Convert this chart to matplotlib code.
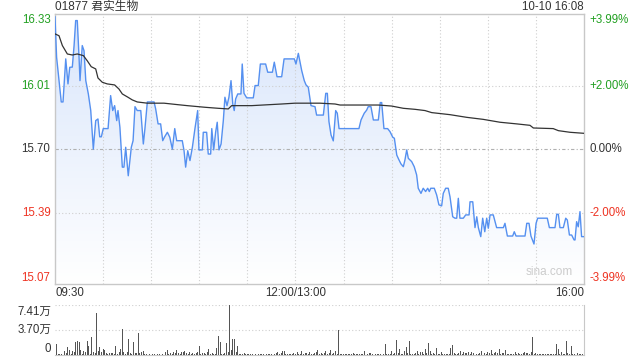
import matplotlib
matplotlib.use("Agg")
import matplotlib.pyplot as plt
import numpy as np

plt.rcParams['font.family'] = ['Liberation Sans', 'Noto Sans CJK SC', 'DejaVu Sans']

TITLE = "01877 君实生物"
STAMP = "10-10 16:08"
PREV_CLOSE = 15.70

# minutes since 09:30 (lunch break removed, 330 = 16:00)
price_t = [0, 1.0, 2.5, 3.9, 5.0, 6.7, 8.1, 9.2, 10.8, 11.9, 12.9, 13.9, 15.0, 15.6, 17.0, 18.1,
           19.2, 20.8, 22.3, 23.9, 25.4, 26.8, 27.9, 28.9, 30.1, 33.1, 34.7, 36.0, 37.2, 38.5,
           39.3, 40.5, 42.0, 43.0, 44.1, 45.7, 47.6, 48.7, 49.9, 51.3, 53.5, 55.1, 56.1, 57.6,
           61.8, 62.8, 64.3, 65.9, 67.2, 68.4, 70.1, 71.6, 73.2, 74.7, 75.9, 79.4, 80.5, 81.5,
           82.8, 84.2, 85.7, 87.3, 89.0, 89.8, 91.9, 92.5, 94.6, 95.6, 97.1, 97.8, 99.0, 100.2,
           101.2, 102.3, 103.6, 105.0, 106.0, 107.3, 108.5, 109.8, 110.9, 111.8, 112.7, 114.0,
           116.0, 116.8, 117.9, 119.6, 123.7, 124.8, 126.8, 128.1, 131.4, 132.7, 135.6, 136.8,
           138.5, 141.4, 142.9, 149.3, 150.3, 151.8, 153.9, 155.5, 156.6, 158.0, 159.7, 162.2,
           163.2, 167.4, 168.9, 169.9, 170.9, 172.2, 173.6, 175.1, 176.1, 177.2, 189.6, 190.9,
           192.9, 194.4, 195.4, 197.1, 198.6, 201.7, 202.9, 203.8, 205.2, 207.5, 209.0, 210.7,
           211.7, 213.2, 214.6, 215.8, 217.3, 218.3, 219.4, 220.4, 222.5, 224.1, 225.6, 226.6,
           228.3, 229.7, 231.2, 232.5, 233.5, 234.4, 236.6, 238.1, 239.5, 241.2, 242.2, 243.7,
           245.3, 246.4, 248.1, 249.5, 250.6, 251.6, 252.6, 254.7, 256.2, 258.3, 258.9, 260.6,
           262.0, 263.1, 264.1, 265.6, 266.8, 268.1, 269.3, 270.3, 271.4, 273.4, 275.5, 279.7,
           280.7, 282.2, 285.5, 286.5, 287.6, 293.2, 294.3, 295.7, 296.9, 298.8, 300.1, 301.1,
           307.1, 308.4, 311.9, 313.0, 314.0, 315.0, 317.1, 318.6, 319.6, 320.9, 322.3, 323.8,
           324.4, 325.4, 326.4, 327.5, 328.5, 330.0]
price_v = [16.345, 16.148, 16.034, 15.93, 15.93, 16.14, 16.018, 16.099, 16.10, 16.205, 16.327,
           16.327, 16.148, 16.034, 16.205, 16.18, 16.034, 15.969, 15.888, 15.70, 15.839, 15.847,
           15.76, 15.76, 15.80, 15.80, 15.961, 15.888, 15.912, 15.839, 15.888, 15.806, 15.612,
           15.612, 15.709, 15.57, 15.709, 15.741, 15.907, 15.888, 15.888, 15.725, 15.80, 15.93,
           15.93, 15.896, 15.823, 15.823, 15.741, 15.76, 15.782, 15.758, 15.70, 15.80, 15.741,
           15.741, 15.692, 15.612, 15.692, 15.644, 15.709, 15.80, 15.888, 15.696, 15.696, 15.782,
           15.782, 15.676, 15.676, 15.80, 15.696, 15.782, 15.831, 15.696, 15.725, 15.839, 15.953,
           15.912, 15.953, 16.034, 15.92, 15.888, 15.945, 15.969, 15.969, 16.115, 15.972, 15.95,
           15.95, 16.01, 16.01, 16.115, 16.115, 16.075, 16.075, 16.124, 16.053, 16.053, 16.14,
           16.14, 16.115, 16.167, 16.083, 16.034, 16.013, 16.002, 15.912, 15.907, 15.866, 15.866,
           15.972, 15.972, 15.834, 15.769, 15.74, 15.888, 15.875, 15.80, 15.80, 15.842, 15.875,
           15.89, 15.907, 15.907, 15.842, 15.842, 15.927, 15.927, 15.80, 15.80, 15.785, 15.758,
           15.753, 15.671, 15.647, 15.628, 15.614, 15.647, 15.696, 15.655, 15.639, 15.614, 15.574,
           15.509, 15.484, 15.509, 15.493, 15.509, 15.493, 15.509, 15.509, 15.476, 15.428, 15.423,
           15.484, 15.509, 15.509, 15.468, 15.37, 15.363, 15.363, 15.46, 15.363, 15.363, 15.379,
           15.379, 15.443, 15.443, 15.317, 15.37, 15.317, 15.273, 15.363, 15.297, 15.363, 15.314,
           15.379, 15.379, 15.317, 15.317, 15.338, 15.276, 15.276, 15.297, 15.276, 15.276, 15.338,
           15.338, 15.276, 15.237, 15.338, 15.363, 15.363, 15.317, 15.317, 15.382, 15.382, 15.317,
           15.317, 15.363, 15.354, 15.281, 15.281, 15.257, 15.257, 15.346, 15.321, 15.395, 15.273,
           15.273]

avg_t = [0, 2.5, 4.6, 7.7, 10.8, 13.9, 17.7, 20.1, 22.6, 25.4, 26.8, 29.5, 32.6, 37.2, 39.9,
         42.0, 45.5, 48.2, 51.3, 57.6, 68.0, 76.3, 82.5, 93.6, 101.9, 108.1, 110.2, 122.7, 141.4,
         149.7, 165.3, 174.7, 177.8, 201.7, 210.0, 217.3, 224.6, 230.8, 235.0, 246.4, 256.8,
         267.2, 277.6, 288.0, 296.3, 298.4, 310.8, 314.0, 321.3, 330.0]
avg_v = [16.262, 16.253, 16.205, 16.164, 16.159, 16.164, 16.156, 16.131, 16.102, 16.091, 16.047,
         16.026, 16.018, 16.013, 15.993, 15.969, 15.953, 15.94, 15.93, 15.924, 15.924, 15.917,
         15.912, 15.904, 15.899, 15.896, 15.912, 15.912, 15.92, 15.924, 15.924, 15.92, 15.915,
         15.915, 15.91, 15.899, 15.894, 15.888, 15.878, 15.868, 15.855, 15.845, 15.831, 15.823,
         15.816, 15.803, 15.80, 15.79, 15.782, 15.777]

# volume per minute, in 万 shares
vol = [4.49, 1.66, 0.15, 0.20, 0.12, 1.22, 0.68, 0.34, 1.22, 0.83,
       0.20, 0.59, 0.49, 1.90, 2.15, 2.00, 0.83, 0.15, 0.59, 0.44,
       2.15, 1.42, 0.20, 2.68, 0.49, 0.29, 6.20, 0.68, 1.22, 0.44,
       0.98, 0.83, 0.29, 0.15, 0.29, 0.39, 0.39, 0.20, 1.32, 0.15,
       0.49, 0.93, 3.80, 0.49, 0.15, 0.49, 2.44, 0.39, 0.12, 1.95,
       0.39, 0.29, 3.32, 0.29, 0.49, 0.63, 0.20, 0.12, 0.10, 0.15,
       0.10, 0.12, 0.20, 0.10, 0.12, 0.15, 0.10, 0.12, 0.83, 0.49,
       0.73, 0.15, 0.34, 0.12, 0.49, 0.34, 0.83, 0.34, 0.15, 0.44,
       0.49, 0.68, 0.29, 0.12, 0.49, 0.15, 0.29, 0.12, 0.29, 0.49,
       1.42, 0.15, 0.29, 0.29, 0.12, 0.44, 0.98, 0.15, 0.29, 0.20,
       0.12, 1.07, 2.83, 2.00, 0.20, 0.12, 0.39, 1.85, 0.49, 7.41,
       0.78, 2.44, 2.44, 0.49, 1.32, 0.20, 0.12, 0.20, 0.34, 0.12,
       0.20, 0.12, 0.15, 0.12, 0.10, 0.15, 0.59, 0.20, 0.12, 0.15,
       0.12, 0.15, 0.20, 0.12, 0.15, 0.20, 0.29, 0.15, 0.34, 0.49,
       0.15, 0.29, 0.63, 0.63, 0.20, 0.15, 0.12, 0.15, 0.20, 0.29,
       0.15, 0.44, 0.12, 0.15, 0.63, 0.20, 0.34, 0.29, 0.15, 0.44,
       0.15, 0.20, 0.29, 0.44, 0.73, 0.15, 0.29, 0.12, 0.29, 0.63,
       0.15, 0.29, 0.73, 0.12, 0.29, 0.59, 0.15, 3.76, 0.15, 0.12,
       0.15, 0.12, 0.15, 0.20, 0.12, 0.15, 0.34, 0.12, 0.15, 0.12,
       0.15, 0.12, 0.20, 0.59, 0.34, 0.15, 0.39, 0.29, 0.12, 0.15,
       0.12, 0.15, 0.20, 0.12, 1.07, 0.15, 1.66, 0.12, 0.15, 0.20,
       0.59, 0.15, 0.29, 2.20, 0.29, 0.88, 0.15, 0.12, 0.59, 1.17,
       0.29, 2.05, 0.15, 0.12, 0.15, 0.34, 0.59, 0.15, 0.49, 0.49,
       0.15, 0.88, 0.34, 1.80, 0.59, 0.12, 0.29, 0.15, 1.02, 0.15,
       0.12, 0.49, 0.15, 0.12, 0.15, 0.12, 0.20, 1.07, 1.51, 0.34,
       0.12, 0.15, 0.29, 0.59, 0.15, 0.44, 0.29, 0.29, 0.49, 0.15,
       0.44, 0.29, 0.93, 0.15, 0.12, 0.39, 0.59, 0.59, 0.29, 0.12,
       0.44, 0.29, 0.78, 0.15, 0.29, 0.49, 0.29, 0.93, 0.15, 0.29,
       0.29, 0.78, 0.15, 0.12, 0.15, 0.12, 0.15, 0.49, 0.12, 0.29,
       0.15, 0.12, 0.29, 0.49, 0.29, 0.34, 0.15, 0.49, 2.68, 0.15,
       0.34, 0.15, 0.12, 0.15, 0.12, 0.15, 0.12, 0.15, 0.12, 0.15,
       0.12, 0.15, 0.12, 1.66, 0.93, 0.15, 0.44, 0.12, 0.15, 2.15,
       0.34, 0.15, 1.37, 0.12, 0.15, 0.29, 0.29, 0.12, 0.15, 0.20,
       0.15]

price_ticks = [16.33, 16.01, 15.70, 15.39, 15.07]
pct_labels = ["+3.99%", "+2.00%", "0.00%", "-2.00%", "-3.99%"]
vol_ticks = [7.41, 3.70, 0]
vol_labels = ["7.41万", "3.70万", "0"]

GREEN = "#22a022"
RED = "#ee3322"
DARK = "#333333"
BORDER = "#c8c8c8"
GRID = "#cfcfcf"
LINE = "#5590f0"


def main():
   fig = plt.figure(figsize=(6.4, 3.6), dpi=100)
   W, H = 640, 360
   ax = fig.add_axes([55 / W, 1 - 284 / H, 529 / W, 270 / H])
   axv = fig.add_axes([55 / W, 1 - 355.3 / H, 529 / W, 50.6 / H])

   ymin, ymax = 15.042, 16.359
   ax.set_xlim(0, 330)
   ax.set_ylim(ymin, ymax)

   # gradient fill under the price line
   fill = ax.fill_between(price_t, price_v, ymin, color="none", lw=0)
   grad = np.linspace(1, 0, 256).reshape(-1, 1)
   top = np.array([0.85, 0.90, 0.985])
   bot = np.array([1.0, 1.0, 1.0])
   img = top * grad[..., None] + bot * (1 - grad[..., None])
   im = ax.imshow(img, extent=[0, 330, ymin, ymax], aspect="auto", origin="upper", zorder=1)
   im.set_clip_path(fill.get_paths()[0], transform=ax.transData)

   for y in [16.01, 15.39]:
      ax.axhline(y, color=GRID, lw=0.8, ls=(0, (1, 2)), zorder=2)
   ax.axhline(PREV_CLOSE, color="#b0b0b0", lw=0.8, ls=(0, (3, 2, 1, 2)), zorder=2)
   for x in range(30, 330, 30):
      ax.axvline(x, color=GRID, lw=0.8, ls=(0, (1, 2)), zorder=2)

   ax.plot(price_t, price_v, color=LINE, lw=1.0, zorder=3)
   ax.plot(avg_t, avg_v, color=DARK, lw=0.9, zorder=4)

   for s in ax.spines.values():
      s.set_color(BORDER)
      s.set_linewidth(1)
   ax.set_xticks([])
   ax.set_yticks([])

   colors = [GREEN, GREEN, DARK, RED, RED]
   for y, lab, pl, c in zip(price_ticks, [f"{p:.2f}" for p in price_ticks], pct_labels, colors):
      ax.text(-4.5 / 529 * 330, y, lab, ha="right", va="center", color=c, fontsize=8.3)
      ax.text(330 + 5 / 529 * 330, y, pl, ha="left", va="center", color=c, fontsize=8.3)

   ax.text(0, 1.0 + 7 / 270, TITLE, transform=ax.transAxes, ha="left", va="center",
           color=DARK, fontsize=8.5)
   ax.text(1, 1.0 + 7 / 270, STAMP, transform=ax.transAxes, ha="right", va="center",
           color=DARK, fontsize=8.3)
   ax.text(0.979, 0.022, "sina.com", transform=ax.transAxes, ha="right", va="bottom",
           color="#cccccc", fontsize=8.5)

   ty = -9 / 270
   ax.text(0, ty, "09:30", transform=ax.transAxes, ha="left", va="center", color=DARK, fontsize=8.3)
   ax.text(150 / 330, ty, "12:00/13:00", transform=ax.transAxes, ha="center", va="center",
           color=DARK, fontsize=8.3)
   ax.text(1, ty, "16:00", transform=ax.transAxes, ha="right", va="center", color=DARK, fontsize=8.3)

   # volume panel
   axv.set_xlim(0, 330)
   axv.set_ylim(0, 7.41)
   axv.bar(np.arange(len(vol)), vol, width=0.6, color="#555555", lw=0, zorder=3)
   for y in [7.41, 3.70]:
      axv.axhline(y, color=GRID, lw=0.8, ls=(0, (1, 2)), zorder=1)
   for side in ["left", "top"]:
      axv.spines[side].set_visible(False)
   for side in ["right", "bottom"]:
      axv.spines[side].set_color(BORDER)
   axv.set_xticks([])
   axv.set_yticks([])
   # labels nudged inside the panel like the original widget
   label_px = [311.5, 330.0, 348.5]
   for py, lab in zip(label_px, vol_labels):
      fig.text(51 / W, 1 - py / H, lab, ha="right", va="center", color=DARK, fontsize=8.3)

   fig.savefig("out.png", dpi=100)


if __name__ == "__main__":
   main()
